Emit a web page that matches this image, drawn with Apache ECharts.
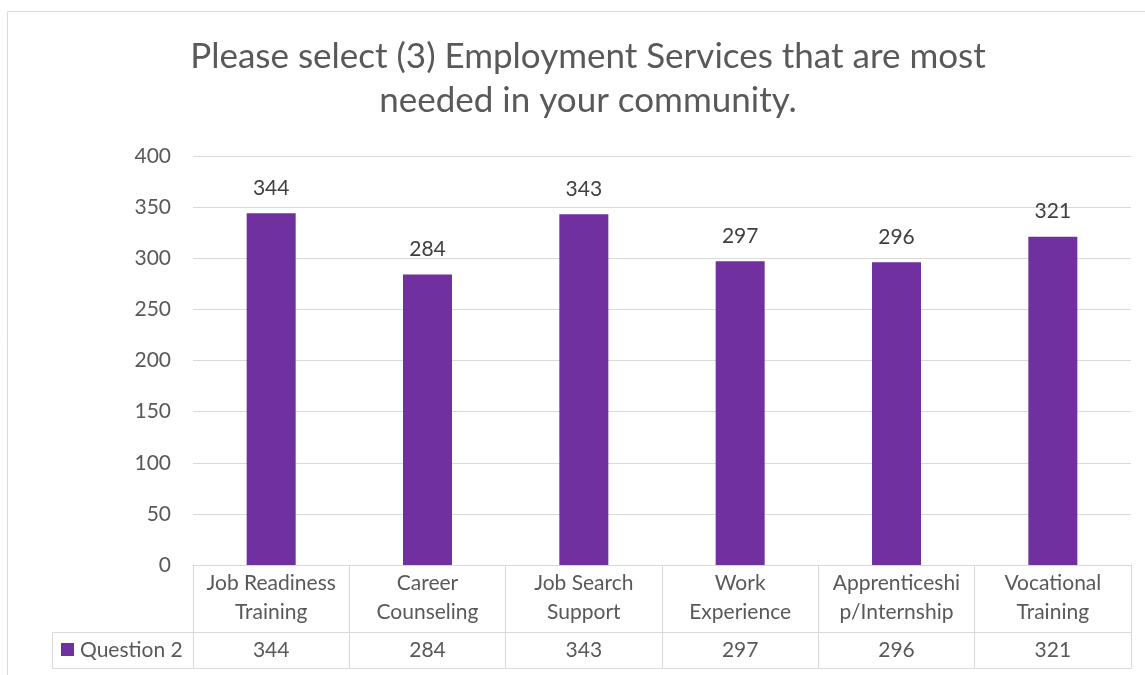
<!DOCTYPE html>
<html>
<head>
<meta charset="utf-8">
<script src="https://cdn.jsdelivr.net/npm/echarts@6/dist/echarts.min.js"></script>
<style>
  html, body { margin: 0; padding: 0; background: #fff; }
  #chart { width: 1145px; height: 675px; }
</style>
</head>
<body>
<div id="chart"></div>
<script>
var categories = ['Job Readiness\nTraining', 'Career\nCounseling', 'Job Search\nSupport', 'Work\nExperience', 'Apprenticeshi\np/Internship', 'Vocational\nTraining'];
var seriesName = 'Question 2';
var values = [344, 284, 343, 297, 296, 321];
var yTicks = { min: 0, max: 400, interval: 50 };

var font = 'Lato, "Open Sans", sans-serif';
var grey = '#595959';
var lineGrey = '#d9d9d9';
var purple = '#7030A0';

var initBar = function () {
    var dom = document.getElementById('chart');
    var myChart = echarts.init(dom);
    var option = {
        animation: false,
        title: {
            text: 'Please select (3) Employment Services that are most\nneeded in your community.',
            left: 583,
            top: 30,
            textAlign: 'center',
            textStyle: { color: grey, fontSize: 35, fontWeight: 'normal', fontFamily: font, lineHeight: 44 }
        },
        grid: { left: 193, right: 14, top: 156, bottom: 110 },
        xAxis: [{
            type: 'category',
            data: categories,
            position: 'bottom',
            axisLine: { lineStyle: { color: lineGrey, width: 1 } },
            axisTick: { show: true, length: 103, interval: 0, lineStyle: { color: lineGrey } },
            axisLabel: { interval: 0, margin: 4, color: grey, fontSize: 21, fontFamily: font, lineHeight: 29 }
        }, {
            type: 'category',
            data: values.map(String),
            position: 'bottom',
            offset: 67,
            axisLine: { lineStyle: { color: lineGrey, width: 1 } },
            axisTick: { show: false },
            axisLabel: { interval: 0, margin: 6, color: grey, fontSize: 21, fontFamily: font, lineHeight: 24 }
        }],
        yAxis: {
            type: 'value',
            min: yTicks.min,
            max: yTicks.max,
            interval: yTicks.interval,
            axisLine: { show: false },
            axisTick: { show: false },
            axisLabel: { color: grey, fontSize: 21, fontFamily: font, margin: 22 },
            splitLine: { lineStyle: { color: lineGrey, width: 1 } }
        },
        series: [{
            name: seriesName,
            type: 'bar',
            xAxisIndex: 0,
            data: values,
            barWidth: 49,
            itemStyle: { color: purple },
            label: { show: true, position: 'top', distance: 15, color: '#404040', fontSize: 21, fontFamily: font }
        }],
        graphic: [
            { type: 'rect', shape: { x: 7.5, y: 11.5, width: 1150, height: 680 }, style: { fill: 'none', stroke: lineGrey, lineWidth: 1 }, silent: true },
            { type: 'line', shape: { x1: 52.5, y1: 632.5, x2: 193, y2: 632.5 }, style: { stroke: lineGrey, lineWidth: 1 } },
            { type: 'line', shape: { x1: 52.5, y1: 668.5, x2: 1131.5, y2: 668.5 }, style: { stroke: lineGrey, lineWidth: 1 } },
            { type: 'line', shape: { x1: 52.5, y1: 632.5, x2: 52.5, y2: 668.5 }, style: { stroke: lineGrey, lineWidth: 1 } },
            { type: 'rect', shape: { x: 61, y: 643, width: 13, height: 13 }, style: { fill: purple } },
            { type: 'text', x: 80, y: 650, style: { text: seriesName, fill: grey, font: '21px ' + font, textVerticalAlign: 'middle' } }
        ]
    };
    myChart.setOption(option);
};
initBar();
</script>
</body>
</html>
